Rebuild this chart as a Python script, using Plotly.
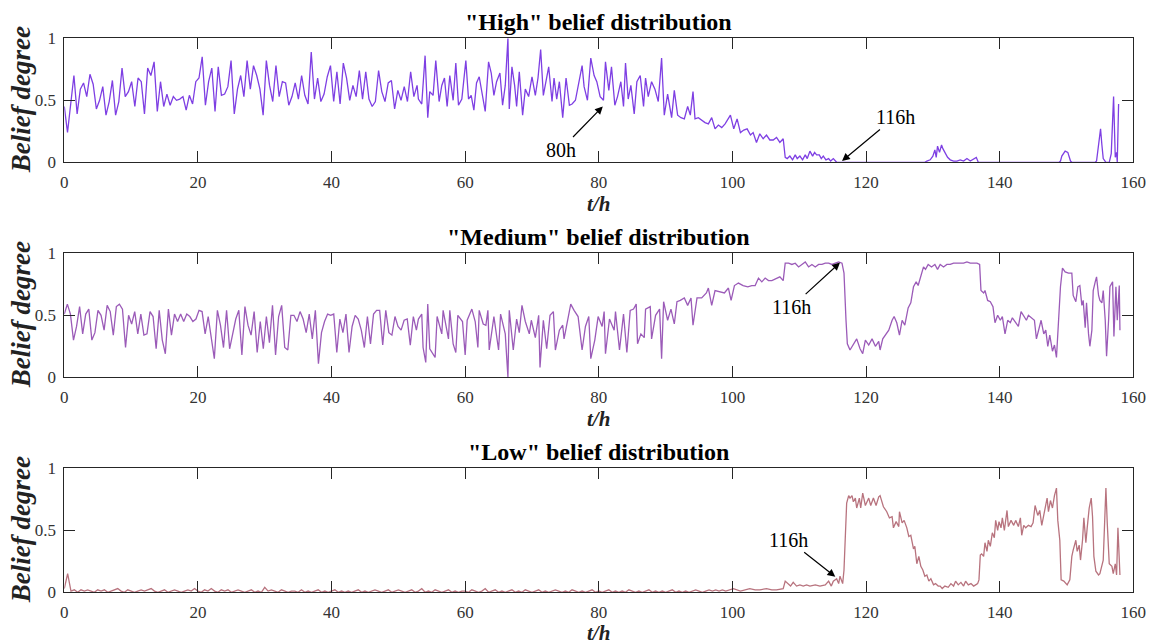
import numpy as np
import plotly.graph_objects as go

# ---------------- data ----------------
# "High" belief
high_a = [0.45,0.24,0.47,0.70,0.39,0.59,0.64,0.53,0.71,0.63,
          0.43,0.50,0.61,0.38,0.49,0.66,0.38,0.49,0.76,0.53,
          0.57,0.65,0.45,0.68,0.65,0.39,0.76,0.70,0.81,0.41,
          0.65,0.45,0.55,0.46,0.53,0.50,0.51,0.53,0.42,0.54,
          0.47,0.65,0.68,0.85,0.46,0.65,0.76,0.41,0.77,0.54,
          0.55,0.61,0.82,0.39,0.59,0.70,0.53,0.82,0.59,0.78,
          0.70,0.59,0.38,0.82,0.62,0.49,0.78,0.53,0.65,0.64,
          0.46,0.53,0.64,0.51,0.70,0.54,0.47,0.89,0.51,0.68,
          0.49,0.55,0.69,0.78,0.49,0.73,0.47,0.80,0.68,0.50,
          0.62,0.53,0.74,0.51,0.73,0.51,0.45,0.49,0.74,0.57,
          0.49,0.64,0.66,0.43,0.58,0.50,0.61,0.49,0.73,0.53,
          0.62]
high_a_span = [0.0, 52.8]

high_b_t = [53.0,53.5,54.0,54.4,54.7,55.2,55.6,56.1,56.5,56.9,57.3,57.7,58.2,58.6,59.0,
            59.5,60.1,60.5,60.9,61.3,61.7,62.1,62.5,63.0,63.5,63.9,64.3,64.7,65.2,
            65.6,66.0,66.4,66.6,67.0,67.4,67.7,68.1,68.6,69.0,69.5,70.0,70.5,70.9,71.3,
            71.7,72.1,72.5,73.0,73.3,73.7,74.1,74.6,75.1,75.6,76.0,76.5,77.0,77.5,77.8,
            78.3,78.8,79.3,79.7,80.2,80.7,81.0,81.5,81.9,82.4,82.8,83.3,83.7,84.0,
            84.4,84.8,85.3,85.7,86.2,86.7,87.0,87.4,87.9,88.4,88.9,89.4,89.8,90.3,
            90.9,91.3,91.8,92.3,92.8,93.3,93.7,94.1,94.4,94.9,95.4,95.9,96.4,
            96.9,97.4,97.9,98.4,98.9,99.7,100.2,100.7,101.2,101.7,102.2,102.7,103.1,103.6,104.1,104.6,105.1,105.6,106.1]
high_b = [0.51,0.47,0.86,0.36,0.57,0.54,0.82,0.49,0.62,0.68,0.45,0.70,0.50,0.80,0.46,
          0.51,0.82,0.51,0.54,0.42,0.64,0.69,0.57,0.41,0.81,0.72,0.54,0.65,0.72,
          0.46,0.62,1.00,0.43,0.77,0.62,0.45,0.73,0.38,0.59,0.53,0.69,0.54,0.68,0.91,
          0.54,0.65,0.77,0.49,0.68,0.51,0.65,0.36,0.68,0.46,0.47,0.50,0.65,0.78,0.61,
          0.50,0.84,0.70,0.65,0.53,0.50,0.81,0.58,0.77,0.46,0.53,0.65,0.45,0.80,
          0.51,0.62,0.39,0.65,0.70,0.45,0.68,0.53,0.65,0.59,0.49,0.84,0.38,0.55,
          0.36,0.58,0.38,0.36,0.35,0.45,0.38,0.57,0.35,0.36,0.34,0.32,0.31,
          0.36,0.27,0.30,0.28,0.31,0.38,0.27,0.35,0.24,0.26,0.27,0.22,0.24,0.16,0.23,0.19,0.22,0.18,0.18]

high_c_t = [106.6,107.1,107.6,107.9,108.2,108.6,109.0,109.4,109.7,110.1,110.5,110.9,111.2,111.6,
            112.0,112.3,112.6,113.0,113.3,113.6,114.0,114.4,114.7,115.1,115.6,116.1,120.0,125.0,128.8,
            129.1,129.6,130.0,130.3,130.5,130.7,131.0,131.3,131.5,131.9,132.2,132.6,133.1,133.6,
            134.1,134.6,135.1,135.6,136.1,136.5,136.8,140.0,145.0,148.9,
            149.1,149.3,149.8,150.2,150.6,150.8,153.0,154.3,
            154.5,154.8,155.1,155.3,155.5,155.9,156.4,156.7,157.05,157.3,157.5,157.6,157.8]
high_c = [0.20,0.16,0.19,0.04,0.03,0.05,0.02,0.06,0.03,0.05,0.02,0.06,0.03,0.09,
          0.05,0.08,0.06,0.06,0.03,0.05,0.02,0.03,0.01,0.03,0.00,0.00,0.00,0.00,0.00,
          0.01,0.02,0.05,0.10,0.04,0.13,0.08,0.14,0.11,0.07,0.04,0.02,0.01,0.01,
          0.02,0.01,0.03,0.01,0.03,0.04,0.00,0.00,0.00,0.00,
          0.01,0.05,0.09,0.08,0.01,0.00,0.00,0.00,
          0.01,0.14,0.27,0.14,0.03,0.00,0.00,0.07,0.53,0.04,0.08,0.00,0.47]

# "Medium" belief
medium_a = [0.51,0.59,0.51,0.30,0.41,0.57,0.35,0.51,0.55,0.30,
            0.36,0.54,0.50,0.38,0.58,0.53,0.34,0.57,0.59,0.55,
            0.24,0.50,0.43,0.53,0.35,0.51,0.34,0.35,0.53,0.49,
            0.23,0.54,0.30,0.19,0.55,0.34,0.51,0.45,0.51,0.45,
            0.51,0.49,0.45,0.47,0.54,0.53,0.35,0.49,0.32,0.15,
            0.54,0.42,0.24,0.54,0.23,0.36,0.47,0.54,0.18,0.57,
            0.42,0.34,0.53,0.20,0.45,0.23,0.49,0.28,0.58,0.18,
            0.49,0.58,0.24,0.22,0.50,0.50,0.45,0.53,0.47,0.36,
            0.51,0.31,0.54,0.11,0.36,0.45,0.51,0.50,0.51,0.20,
            0.47,0.36,0.51,0.20,0.41,0.50,0.47,0.38,0.24,0.49,
            0.27,0.51,0.54,0.54,0.26,0.54,0.36,0.34,0.49,0.41,
            0.38,0.46,0.47,0.26,0.49,0.38]
medium_a_span = [0.0, 52.7]

medium_b_t = [53.0,53.5,53.7,54.1,54.4,54.7,55.5,55.8,56.5,56.7,57.2,57.5,57.7,58.2,58.6,58.9,
              59.6,60.0,60.3,61.0,61.5,61.9,62.1,62.7,63.1,63.4,63.6,64.0,64.3,65.0,65.3,66.0,
              66.4,66.6,67.2,67.7,68.1,68.5,69.0,69.6,69.9,70.5,71.0,71.2,71.7,72.2,72.7,73.2,
              73.5,74.1,74.6,74.8,75.5,75.8,76.3,76.9,77.5,78.0,78.5,78.8,79.4,79.9,80.5,80.8,
              81.0,81.6,82.3,82.5,83.1,83.7,84.2,84.7,85.2,85.6,85.8,86.3,86.8,87.0,87.7,87.9,
              88.5,89.1,89.4,89.7,90.3,90.8,91.3,91.7,92.2,92.8,93.3,93.8,94.1,94.7,95.4,96.1,
              96.4,96.9,97.4,98.1,98.8,99.4,99.8,100.3,100.9,101.6,102.3,102.9,103.4,103.9,104.4,
              104.9,105.4,105.9]
medium_b = [0.47,0.51,0.24,0.12,0.59,0.23,0.16,0.49,0.35,0.54,0.38,0.31,0.54,0.27,0.20,0.50,
            0.45,0.18,0.46,0.55,0.45,0.24,0.54,0.43,0.42,0.54,0.22,0.36,0.49,0.22,0.51,0.35,
            0.00,0.54,0.22,0.47,0.36,0.58,0.45,0.35,0.46,0.32,0.50,0.08,0.46,0.23,0.50,0.53,
            0.22,0.38,0.42,0.31,0.51,0.59,0.54,0.49,0.22,0.41,0.49,0.15,0.30,0.49,0.41,0.53,
            0.19,0.47,0.38,0.53,0.22,0.51,0.20,0.54,0.55,0.59,0.27,0.35,0.32,0.55,0.57,0.31,
            0.50,0.55,0.15,0.61,0.46,0.55,0.43,0.61,0.62,0.64,0.58,0.64,0.42,0.64,0.64,0.68,
            0.72,0.58,0.70,0.69,0.68,0.72,0.62,0.74,0.76,0.74,0.73,0.74,0.74,0.80,0.77,
            0.80,0.78,0.78]

medium_c_t = [106.6,107.1,107.6,107.9,108.4,108.9,109.4,109.9,110.4,110.9,111.4,111.9,112.4,112.9,
              113.4,113.9,114.4,114.9,115.4,115.9,116.4,116.7,117.0,117.2,117.6,118.1,118.6,119.1,
              119.5,119.9,120.4,120.9,121.4,121.9,122.1,122.5,122.9,123.4,123.9,124.2,124.6,125.0,
              125.4,125.8,126.3,126.7,127.1,127.5,127.8,128.2,128.6,128.9,129.3,129.8,130.3,130.7,
              131.1,131.6,132.1,132.6,133.1,133.6,134.1,134.6,135.1,135.6,136.1,136.6,137.0,137.2,
              137.6,137.8,138.2,138.6,139.0,139.3,139.7,140.1,140.4,140.8,141.2,141.6,141.9,142.3,
              142.8,143.2,143.6,144.0,144.3,144.8,145.2,145.5,145.8,146.2,146.6,146.9,147.2,147.5,
              147.9,148.2,148.5,148.8,149.1,149.4,149.8,150.3,150.8,151.0,151.4,151.7,152.0,152.3,
              152.5,152.8,153.0,153.3,153.5,153.8,154.0,154.3,154.5,154.8,155.0,155.3,155.5,155.8,
              156.0,156.3,156.5,156.9,157.1,157.4,157.6,157.9,158.0]
medium_c = [0.80,0.81,0.78,0.92,0.92,0.91,0.92,0.89,0.91,0.93,0.89,0.91,0.89,0.91,
            0.91,0.92,0.92,0.91,0.92,0.93,0.92,0.84,0.46,0.27,0.22,0.27,0.31,0.23,
            0.19,0.30,0.26,0.31,0.25,0.29,0.22,0.31,0.34,0.38,0.46,0.49,0.44,0.34,
            0.46,0.42,0.56,0.60,0.73,0.77,0.74,0.81,0.89,0.87,0.91,0.89,0.91,0.87,
            0.91,0.89,0.91,0.91,0.92,0.92,0.92,0.92,0.93,0.92,0.92,0.92,0.91,0.70,
            0.68,0.70,0.62,0.61,0.57,0.44,0.50,0.46,0.49,0.35,0.46,0.44,0.48,0.45,
            0.41,0.53,0.49,0.46,0.50,0.48,0.46,0.31,0.38,0.46,0.35,0.38,0.25,0.34,
            0.21,0.26,0.16,0.46,0.73,0.88,0.85,0.84,0.84,0.66,0.61,0.73,0.74,0.58,
            0.62,0.40,0.60,0.35,0.25,0.38,0.70,0.77,0.81,0.66,0.62,0.60,0.70,0.46,
            0.17,0.46,0.73,0.77,0.33,0.73,0.46,0.74,0.38]

# "Low" belief
low_a = [0.03,0.15,0.01,0.02,0.00,0.02,0.01,0.02,0.01,0.00,0.02,0.01,0.02,0.00,0.01,0.02,0.03,0.01,0.00,0.02,
         0.01,0.00,0.01,0.02,0.01,0.02,0.03,0.01,0.00,0.01,0.02,0.00,0.01,0.02,0.01,0.00,0.01,0.02,0.01,0.03,
         0.01,0.00,0.02,0.01,0.03,0.01,0.00,0.02,0.01,0.02,0.00,0.01,0.02,0.01,0.00,0.01,0.02,0.00,0.01,0.00,
         0.04,0.01,0.02,0.01,0.00,0.02,0.01,0.00,0.01,0.01,0.00,0.02,0.00,0.01,0.00,0.01,0.02,0.00,0.01,0.00,
         0.01,0.02,0.00,0.01,0.00,0.01,0.00,0.01,0.02,0.00,0.01,0.00,0.01,0.02,0.01,0.00,0.01,0.02,0.00,0.01,
         0.02,0.01,0.00,0.01,0.02,0.00,0.01,0.03,0.00,0.01,0.00,0.02,0.01,0.00,0.01,0.02,0.00,0.01,0.00,0.01,
         0.01,0.00,0.02,0.01,0.00,0.01,0.03,0.00,0.01,0.02,0.00,0.01,0.00,0.01,0.02,0.00,0.01,0.00,0.02,0.01,
         0.00,0.01,0.02,0.00,0.01,0.00,0.01,0.02,0.01,0.00,0.01,0.00,0.02,0.01,0.00,0.01,0.00,0.01,0.02,0.00,
         0.01,0.00,0.01,0.02,0.00,0.01,0.00,0.01,0.00,0.02,0.01,0.00,0.01,0.00,0.01,0.02,0.00,0.01,0.00,0.01,
         0.00,0.01,0.02,0.00,0.01,0.00,0.01,0.00,0.01,0.02,0.01,0.00,0.01,0.02,0.01,0.02,0.01,0.02,0.01,0.02]
low_a_span = [0.0, 99.5]

low_b_t = [100.15,101.2,101.9,102.6,103.4,104.1,105.1,105.9,106.6,107.4,107.6,107.9,108.4,108.7,109.1,
           109.6,110.1,110.6,111.1,111.6,112.4,113.1,113.9,114.4,114.8,115.1,115.6,115.9,116.1,116.5,
           116.7,117.0,117.1,117.4,117.6,117.9,118.1,118.4,118.6,119.0,119.2,119.5,119.9,120.4,120.7,
           121.1,121.5,121.9,122.1,122.6,123.1,123.5,123.9,124.1,124.5,124.9,125.0,125.4,125.7,126.1,
           126.4,126.7,127.1,127.3,127.6,127.9,128.2,128.5,128.8,129.1,129.4,129.7,130.1,130.4,130.8,
           131.1,131.4,131.8,132.3,132.7,133.1,133.4,133.8,134.2,134.6,134.9,135.3,135.7,136.1,136.4,
           136.7,136.9,137.1,137.3,137.6,137.8,138.1,138.3,138.6,138.9,139.2,139.4,139.7,139.9,140.2,
           140.4,140.7,141.1,141.3,141.7,142.1,142.4,142.8,143.1,143.3,143.6,143.9,144.3,144.7,145.0,
           145.3,145.7,146.0,146.3,146.7,147.1,147.3,147.6,147.9,148.2,148.5,148.7,149.0,149.2,149.6,
           150.1,150.5,150.8,151.0,151.4,151.6,151.9,152.1,152.4,152.6,152.9,153.1,153.4,153.7,153.9,
           154.1,154.4,154.8,155.0,155.5,155.8,155.9,156.1,156.4,156.8,157.0,157.3,157.5,157.7,157.9,158.0]
low_b = [0.03,0.01,0.02,0.03,0.02,0.02,0.03,0.02,0.02,0.03,0.03,0.09,0.06,0.05,0.08,
         0.05,0.06,0.05,0.06,0.05,0.06,0.05,0.06,0.09,0.05,0.09,0.11,0.07,0.13,0.07,
         0.18,0.50,0.72,0.78,0.76,0.78,0.73,0.76,0.68,0.76,0.68,0.80,0.70,0.76,0.70,
         0.76,0.70,0.77,0.78,0.69,0.65,0.60,0.61,0.52,0.57,0.53,0.65,0.56,0.58,0.52,
         0.45,0.46,0.35,0.37,0.23,0.29,0.21,0.18,0.13,0.14,0.09,0.11,0.06,0.07,0.05,
         0.05,0.03,0.05,0.04,0.07,0.05,0.09,0.06,0.08,0.05,0.09,0.06,0.07,0.05,0.06,
         0.07,0.10,0.30,0.31,0.29,0.40,0.33,0.42,0.37,0.48,0.44,0.58,0.50,0.57,0.52,
         0.60,0.50,0.66,0.53,0.58,0.54,0.58,0.53,0.60,0.46,0.54,0.52,0.54,0.53,0.56,
         0.70,0.62,0.66,0.54,0.64,0.76,0.65,0.74,0.68,0.78,0.84,0.58,0.42,0.10,0.09,
         0.06,0.10,0.29,0.34,0.42,0.33,0.38,0.26,0.42,0.60,0.40,0.52,0.68,0.76,0.61,
         0.29,0.17,0.14,0.15,0.26,0.61,0.84,0.56,0.23,0.21,0.15,0.23,0.14,0.52,0.18,0.14]

titles = ['"High" belief distribution', '"Medium" belief distribution', '"Low" belief distribution']
x_ticks = [0, 20, 40, 60, 80, 100, 120, 140, 160]
y_ticks = [0, 0.5, 1]
y_tick_text = ["0", "0.5", "1"]
colors = ["#7E3FE3", "#9B5BB8", "#B8737E"]

# --------------- build series -----------------
def series(a, span, b_t=None, b=None, c_t=None, c=None):
    t = list(np.linspace(span[0], span[1], len(a)))
    v = list(a)
    for tt, vv in ((b_t, b), (c_t, c)):
        if tt is not None:
            t += list(tt)
            v += list(vv)
    return t, v

high_t, high_v = series(high_a, high_a_span, high_b_t, high_b, high_c_t, high_c)
med_t, med_v = series(medium_a, medium_a_span, medium_b_t, medium_b, medium_c_t, medium_c)
low_t, low_v = series(low_a, low_a_span, low_b_t, low_b)

W, H = 1163, 644
x0, x1 = 64.3, 1133.3
panels = [(38.3, 162.3), (253.3, 377.3), (468.3, 592.3)]
xlabel_offsets = [42, 42, 40.5]
SERIF = "Liberation Serif, Times New Roman, serif"

fig = go.Figure()
data = [(high_t, high_v), (med_t, med_v), (low_t, low_v)]
for i, (t, v) in enumerate(data):
    sfx = "" if i == 0 else str(i + 1)
    fig.add_trace(go.Scatter(x=t, y=v, mode="lines", xaxis="x" + sfx, yaxis="y" + sfx,
                             line=dict(color=colors[i], width=1.3), showlegend=False,
                             hoverinfo="skip"))

layout = dict(width=W, height=H, margin=dict(l=0, r=0, t=0, b=0, autoexpand=False),
              paper_bgcolor="white", plot_bgcolor="white", showlegend=False)
axis_common = dict(showline=True, linecolor="#262626", linewidth=1, mirror="ticks",
                   ticks="inside", ticklen=11, tickwidth=1, tickcolor="#262626",
                   showgrid=False, zeroline=False, automargin=False,
                   tickfont=dict(family=SERIF, size=17, color="#333333"))
annotations = []
for i, (top, bot) in enumerate(panels):
    sfx = "" if i == 0 else str(i + 1)
    layout["xaxis" + sfx] = dict(axis_common, domain=[x0 / W, x1 / W], range=[0, 160],
                                 tickvals=x_ticks, anchor="y" + sfx, ticklabelstandoff=4)
    layout["yaxis" + sfx] = dict(axis_common, domain=[1 - bot / H, 1 - top / H], range=[0, 1],
                                 tickvals=y_ticks, ticktext=y_tick_text, anchor="x" + sfx,
                                 ticklabelstandoff=4)
    cx = (x0 + x1) / 2 / W
    annotations.append(dict(text="<b>%s</b>" % titles[i], x=cx, y=1 - (top - 16) / H,
                            xref="paper", yref="paper", showarrow=False,
                            xanchor="center", yanchor="middle",
                            font=dict(family=SERIF, size=24, color="black")))
    annotations.append(dict(text="<b><i>t/h</i></b>", x=cx, y=1 - (bot + xlabel_offsets[i]) / H,
                            xref="paper", yref="paper", showarrow=False,
                            xanchor="center", yanchor="middle",
                            font=dict(family=SERIF, size=21, color="#222222")))
    annotations.append(dict(text="<b><i>Belief degree</i></b>", x=21 / W,
                            y=1 - (top + bot) / 2 / H, xref="paper", yref="paper",
                            showarrow=False, textangle=-90, xanchor="center", yanchor="middle",
                            font=dict(family=SERIF, size=27, color="#222222")))

arrow_style = dict(showarrow=True, arrowhead=2, arrowsize=1.3, arrowwidth=1.2,
                   arrowcolor="black", font=dict(family=SERIF, size=20, color="black"))
annotations += [
    dict(arrow_style, text="80h", x=80.6, y=0.45, xref="x", yref="y", ax=-42, ay=43),
    dict(arrow_style, text="116h", x=116.4, y=0.01, xref="x", yref="y", ax=53, ay=-44),
    dict(arrow_style, text="116h", x=116.1, y=0.925, xref="x2", yref="y2", ax=-48, ay=44),
    dict(arrow_style, text="116h", x=115.4, y=0.125, xref="x3", yref="y3", ax=-47, ay=-37),
]
layout["annotations"] = annotations
fig.update_layout(**layout)
fig.write_html("out.html")
